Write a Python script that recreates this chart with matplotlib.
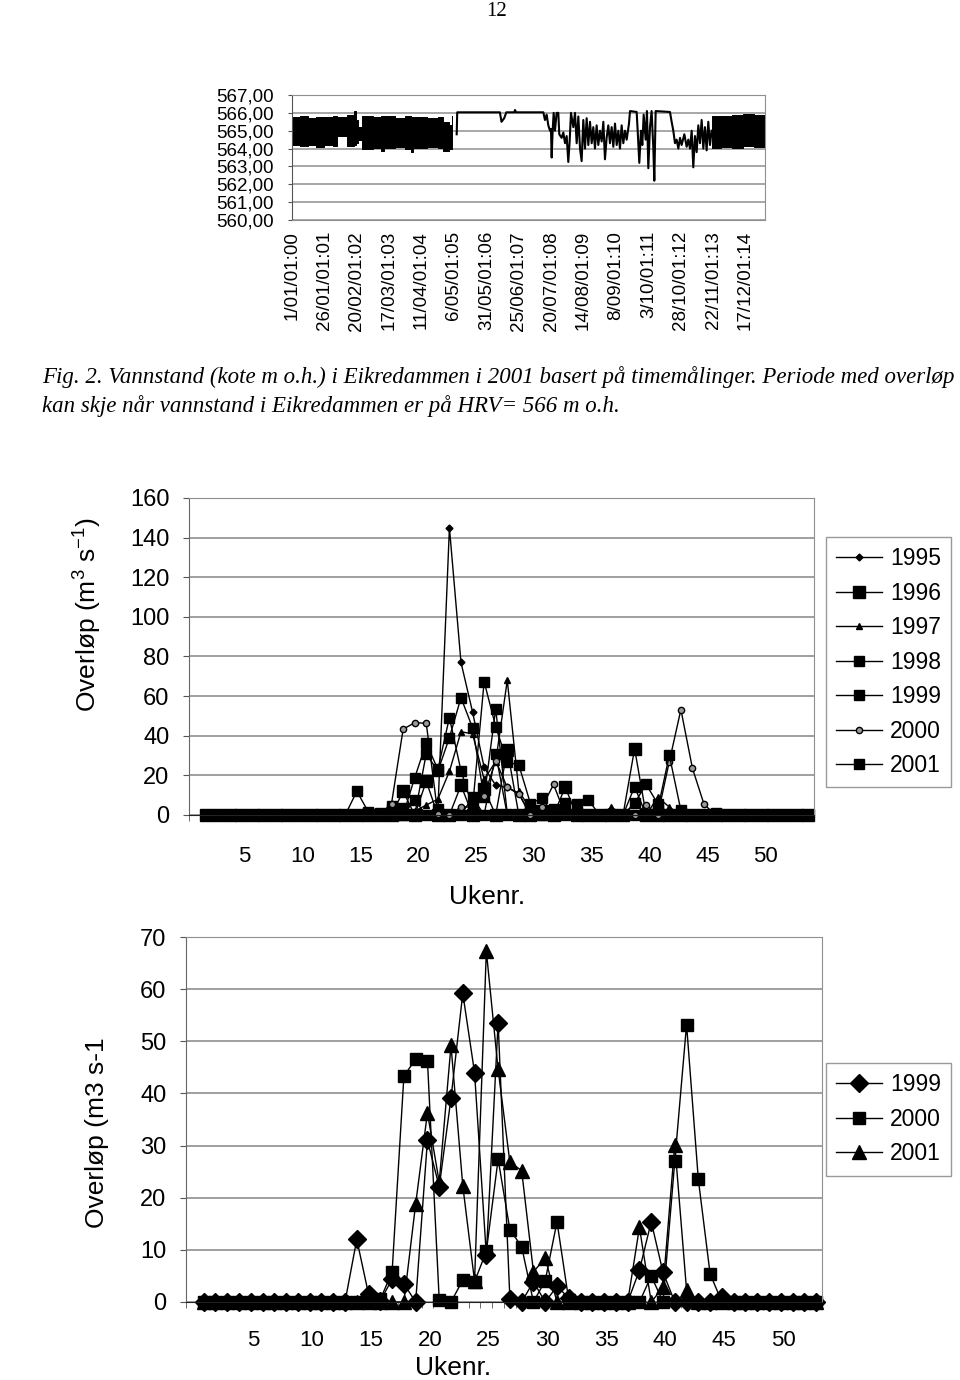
import matplotlib
matplotlib.use("Agg")
import matplotlib.pyplot as plt

plt.rcParams["font.family"] = ["Liberation Sans", "DejaVu Sans"]
plt.rcParams["mathtext.default"] = "regular"

NAN = float("nan")

# ---- Water level in Eikredammen 2001 (hourly)
# dense daily oscillation, read as blocks: start hour, low, high (NaN = no band)
band_hour = [0, 150, 300, 450, 600, 760, 830, 1010, 1140, 1180, 1230, 1300, 1500, 1650,
             1700, 1900, 2100, 2200, 2250, 2500, 2700, 2800, 2900, 2960, 3055,
             7772, 7950, 8150, 8350, 8550, 8760]
band_lo = [564.2, 564.15, 564.2, 564.1, 564.18, 564.15, 564.7, 564.15, 564.2, 564.3,
           564.5, 564.0, 564.05, 563.85, 564.05, 564.1, 564.0, 563.8, 564.05, 564.1,
           564.05, 563.85, 563.95, 564.05, NAN,
           564.05, 564.1, 564.05, 564.15, 564.1, 564.1]
band_hi = [565.75, 565.8, 565.7, 565.78, 565.75, 565.8, 565.78, 565.9, 566.12, 565.6,
           565.2, 565.8, 565.75, 565.8, 565.82, 565.7, 565.8, 565.75, 565.78, 565.7,
           565.75, 565.5, 565.3, 565.8, NAN,
           565.8, 565.85, 565.9, 565.95, 565.9, 565.9]
# single trace between early May and early November
trace_hour = [3050, 3060, 3850, 3880, 3930, 3970, 4120, 4130, 4150, 4655,
              4685, 4716, 4747, 4778, 4796, 4809, 4827, 4846, 4870, 4901,
              4932, 4950, 4994, 5025, 5056, 5087, 5117, 5142, 5167, 5210,
              5241, 5272, 5303, 5334, 5364, 5395, 5426, 5457, 5488, 5519,
              5550, 5580, 5611, 5642, 5673, 5704, 5735, 5766, 5796, 5827,
              5858, 5889, 5920, 5951, 5982, 6013, 6044, 6074, 6105, 6136,
              6167, 6198, 6241, 6260, 6383, 6402, 6432, 6463, 6488, 6513,
              6550, 6574, 6599, 6630, 6660, 6692, 6710, 6735, 7000, 7031,
              7062, 7093, 7124, 7155, 7186, 7216, 7266, 7309, 7340, 7371,
              7402, 7432, 7463, 7494, 7525, 7556, 7587, 7618, 7648, 7679,
              7710, 7741, 7772]
trace_level = [564.8, 566.03, 566.03, 565.5, 565.7, 566.03, 566.03, 566.16, 566.03, 566.03,
               565.6, 565.9, 565.3, 565.0, 565.1, 563.5, 565.0, 566.0, 565.0, 566.0,
               566.0, 564.8, 564.6, 564.9, 564.3, 564.7, 563.25, 564.4, 566.0, 565.2,
               566.0, 564.3, 565.8, 564.0, 563.3, 565.6, 564.0, 565.7, 564.2, 565.5,
               564.3, 565.2, 564.0, 565.3, 564.2, 565.0, 564.4, 565.5, 563.4, 564.6,
               565.3, 564.3, 565.2, 564.1, 565.4, 564.2, 565.0, 564.0, 565.3, 564.3,
               565.0, 564.5, 565.4, 566.1, 566.05, 565.0, 563.2, 565.0, 564.2, 565.9,
               564.5, 566.1, 562.9, 565.2, 566.1, 564.0, 562.2, 566.1, 566.05, 565.5,
               565.0, 564.3, 564.5, 564.0, 564.6, 564.2, 564.8, 564.1, 564.5, 564.0,
               565.0, 562.95, 564.7, 563.8, 565.3, 564.3, 565.6, 564.0, 565.2, 563.9,
               565.5, 564.2, 565.0]
hour_ticks = [0, 600, 1200, 1800, 2400, 3000, 3600, 4200, 4800, 5400, 6000, 6600,
              7200, 7800, 8400]
hour_labels = ["1/01/01:00", "26/01/01:01", "20/02/01:02", "17/03/01:03",
               "11/04/01:04", "6/05/01:05", "31/05/01:06", "25/06/01:07",
               "20/07/01:08", "14/08/01:09", "8/09/01:10", "3/10/01:11",
               "28/10/01:12", "22/11/01:13", "17/12/01:14"]
level_ticks = [560, 561, 562, 563, 564, 565, 566, 567]

# ---- Weekly overflow (m3/s), week 1..53
weeks = list(range(1, 54))
q1995 = [0, 0, 0, 0, 0, 0, 0, 0, 0, 0,
         0, 0, 0, 0, 0, 0, 0, 0, 1, 0,
         2, 145, 77, 52, 24, 15, 14, 11, 0, 0,
         0, 0, 0, 0, 0, 0, 0, 0, 0, 0,
         0, 0, 0, 0, 0, 0, 0, 0, 0, 0,
         0, 0, 0]
q1996 = [0, 0, 0, 0, 0, 0, 0, 0, 0, 0,
         0, 0, 0, 0, 0, 0, 0, 12, 0, 17,
         0, 0, 15, 0, 13, 0, 33, 0, 0, 2,
         0, 14, 0, 0, 0, 0, 0, 33.5, 0, 0,
         0, 0, 0, 0, 0, 0, 0, 0, 0, 0,
         0, 0, 0]
q1997 = [0, 0, 0, 0, 0, 0, 0, 0, 0, 0,
         0, 0, 0, 0, 0, 0, 0, 0, 2, 5,
         8, 22, 42, 41, 18, 27, 68, 12, 3, 0,
         0, 0, 0, 0, 0, 4, 0, 0, 0, 9,
         4, 0, 0, 0, 0, 0, 0, 0, 0, 0,
         0, 0, 0]
q1998 = [0, 0, 0, 0, 0, 0, 0, 0, 0, 0,
         0, 0, 0, 0, 0.5, 1, 3, 0, 7.6, 0,
         3, 0, 0, 9, 0, 31, 0, 0, 1, 0,
         0, 6.3, 5.5, 7.5, 0, 0, 0, 0, 0, 0,
         0, 0, 0, 0, 0, 0, 0, 0, 0, 0,
         0, 0, 0]
q1999 = [0, 0, 0, 0, 0, 0, 0, 0, 0, 0,
         0, 0, 0, 12, 1.5, 0.2, 4.4, 3.5, 0, 31,
         22.1, 39.1, 59.2, 44, 9, 53.6, 0.6, 0, 3.9, 0,
         3.0, 0.8, 0, 0, 0, 0, 0, 6.1, 15.4, 5.7,
         0, 0, 0, 0, 1.0, 0, 0, 0, 0, 0,
         0, 0, 0]
q2000 = [0, 0, 0, 0, 0, 0, 0, 0, 0, 0,
         0, 0, 0, 0, 0.3, 0.5, 5.8, 43.3, 46.6, 46.3,
         0.4, 0, 4.2, 3.9, 9.7, 27.4, 13.9, 10.6, 0, 4.1,
         15.4, 0.3, 0, 0, 0, 0, 0, 0, 5.0, 0,
         27, 53.2, 23.5, 5.4, 0, 0, 0, 0, 0, 0,
         0, 0, 0]
q2001 = [0, 0, 0, 0, 0, 0, 0, 0, 0, 0,
         0, 0, 0, 0, 0, 0, 0, 0, 18.8, 36.3,
         23, 49.2, 22.3, 4, 67.3, 44.6, 26.8, 25.2, 5.8, 8.4,
         0, 0, 0, 0, 0, 0, 0, 14.3, 0, 2.8,
         30.2, 2.3, 0, 0, 0, 0, 0, 0, 0, 0,
         0, 0, 0]
week_ticks = [5, 10, 15, 20, 25, 30, 35, 40, 45, 50]

GRID = "#8f8f8f"


def fig_box(left, top, right, bottom):
    # pixel box -> figure fraction [l, b, w, h]
    return [left / 960, 1 - bottom / 1380, (right - left) / 960, (bottom - top) / 1380]


def week_axes(ax, ymax, ystep, tickpad, label_shift):
    ax.set_xlim(-0.5, 53.5)
    ax.set_ylim(0, ymax)
    ax.set_yticks(range(0, ymax + 1, ystep))
    ax.yaxis.grid(True, color=GRID, lw=1.2)
    ax.set_axisbelow(True)
    ax.set_xticks([w + label_shift for w in week_ticks])
    ax.set_xticklabels([str(w) for w in week_ticks])
    ax.set_xticks([w - 0.5 for w in range(0, 55)], minor=True)
    ax.tick_params(axis="x", which="major", length=0, pad=tickpad, labelsize=16)
    ax.tick_params(axis="x", which="minor", length=4, color="#555555")
    ax.tick_params(axis="y", length=4, color="#555555", pad=10, labelsize=17)
    for s in ["top", "right"]:
        ax.spines[s].set_color(GRID)
    ax.spines["left"].set_color("#666666")
    ax.spines["bottom"].set_color("#222222")


fig = plt.figure(figsize=(9.6, 13.8), dpi=100)

fig.text(497 / 960, 1 - 11 / 1380, "12", ha="center", va="center",
         family="Liberation Serif", fontsize=15)

# ---- top: water level
ax0 = fig.add_axes(fig_box(292, 95, 765, 220))
ax0.fill_between(band_hour, band_lo, band_hi, step="post", color="black", lw=0.7)
ax0.plot(trace_hour, trace_level, color="black", lw=1.5)
ax0.set_xlim(0, 8760)
ax0.set_ylim(560, 567)
ax0.set_yticks(level_ticks)
ax0.set_yticklabels([f"{v:.2f}".replace(".", ",") for v in level_ticks])
ax0.set_xticks(hour_ticks)
ax0.set_xticklabels(hour_labels, rotation=90, va="top", ha="center")
ax0.tick_params(axis="x", length=0, pad=8, labelsize=13.5)
ax0.tick_params(axis="y", length=3, pad=10, labelsize=13.5, color="#555555")
ax0.yaxis.grid(True, color=GRID, lw=1.1)
ax0.set_axisbelow(True)
for s in ax0.spines.values():
    s.set_color(GRID)
ax0.spines["left"].set_color("#555555")

cap_kw = dict(family="Liberation Serif", style="italic", fontsize=16.5, ha="left", va="center")
fig.text(42 / 960, 1 - 377 / 1380,
         "Fig. 2. Vannstand (kote m o.h.) i Eikredammen i 2001 basert på timemålinger. "
         "Periode med overløp", **cap_kw)
fig.text(42 / 960, 1 - 406 / 1380,
         "kan skje når vannstand i Eikredammen er på HRV= 566 m o.h.", **cap_kw)

# ---- middle: all years
ax1 = fig.add_axes(fig_box(189, 498, 814, 815))
line_kw = dict(color="black", lw=1.0, clip_on=False)
ax1.plot(weeks, q1995, marker="D", ms=3.5, label="1995", **line_kw)
ax1.plot(weeks, q1996, marker="s", ms=8, label="1996", **line_kw)
ax1.plot(weeks, q1997, marker="^", ms=4, label="1997", **line_kw)
ax1.plot(weeks, q1998, marker="s", ms=7, label="1998", **line_kw)
ax1.plot(weeks, q1999, marker="s", ms=7, label="1999", **line_kw)
ax1.plot(weeks, q2000, marker="o", ms=4.5, mfc="#9a9a9a", mec="black", label="2000", **line_kw)
ax1.plot(weeks, q2001, marker="s", ms=7, label="2001", **line_kw)
week_axes(ax1, 160, 20, 22, -0.7)
leg_kw = dict(loc="upper left", bbox_transform=fig.transFigure, fancybox=False,
              edgecolor="#999999", fontsize=16.5, handlelength=2.0, handletextpad=0.35,
              borderpad=0.45, labelspacing=0.5, borderaxespad=0, framealpha=1)
ax1.legend(bbox_to_anchor=(826 / 960, 1 - 537 / 1380), **leg_kw)
fig.text(88 / 960, 1 - 615 / 1380, "Overløp (m$^3$ s$^{-1}$)", rotation=90,
         ha="center", va="center", fontsize=19)
fig.text(487 / 960, 1 - 897 / 1380, "Ukenr.", ha="center", va="center", fontsize=19)

# ---- bottom: 1999-2001
ax2 = fig.add_axes(fig_box(186, 937, 822, 1302))
ax2.plot(weeks, q1999, marker="D", ms=9, label="1999", **line_kw)
ax2.plot(weeks, q2000, marker="s", ms=8.5, label="2000", **line_kw)
ax2.plot(weeks, q2001, marker="^", ms=9.5, label="2001", **line_kw)
week_axes(ax2, 70, 10, 20, 0.2)
ax2.legend(bbox_to_anchor=(826 / 960, 1 - 1063 / 1380), **leg_kw)
fig.text(97 / 960, 1 - 1133 / 1380, "Overløp (m3 s-1", rotation=90,
         ha="center", va="center", fontsize=19)
fig.text(453 / 960, 1 - 1368 / 1380, "Ukenr.", ha="center", va="center", fontsize=19)

fig.savefig("out.png", dpi=100)
